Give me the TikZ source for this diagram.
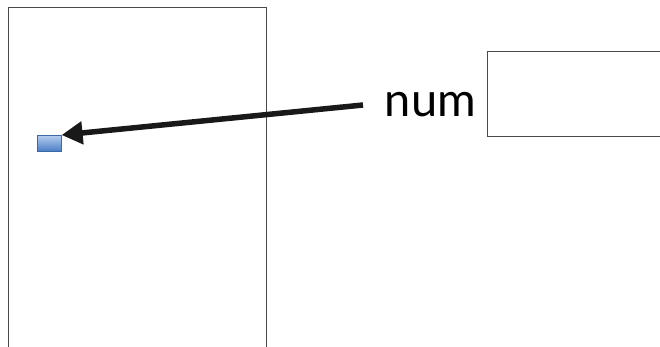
\documentclass[tikz,border=0pt]{standalone}
\usepackage{fontspec}
\setmainfont{Lato}
\usetikzlibrary{arrows.meta,shadows}
\definecolor{framegray}{HTML}{4A4A4A}
\definecolor{bluetop}{HTML}{B4CDEF}
\definecolor{bluebot}{HTML}{4A7EC6}
\definecolor{blueedge}{HTML}{3A68A8}
\begin{document}
\begin{tikzpicture}[x=1pt,y=-1pt,
  framebox/.style={draw=framegray,line width=0.9pt,inner sep=0pt,anchor=north west},
  varbox/.style={draw=blueedge,line width=0.6pt,top color=bluetop,bottom color=bluebot,
    inner sep=0pt,minimum width=24pt,minimum height=16pt,anchor=north west,
    drop shadow={shadow xshift=0.6pt,shadow yshift=-0.8pt,opacity=0.25}},
  pointer/.style={line width=5.5pt,color=black!90,-{Triangle[length=21pt,width=22pt]}}]
\useasboundingbox (0,0) rectangle (660,347);
\clip (0,0) rectangle (660,347);
\fill[white] (0,0) rectangle (660,347);
\node[framebox,minimum width=258pt,minimum height=360pt] (frame) at (8,7.3) {};
\node[framebox,minimum width=190pt,minimum height=85pt] (box) at (486.5,51) {};
\node[varbox] (var) at (37,135) {};
\node[inner sep=0pt,anchor=base,font=\fontsize{47}{48}\selectfont] (lbl) at (430.5,117) {num};
\coordinate (start) at (363,105);
\draw[pointer] (start) -- (var.north east);
\end{tikzpicture}
\end{document}
